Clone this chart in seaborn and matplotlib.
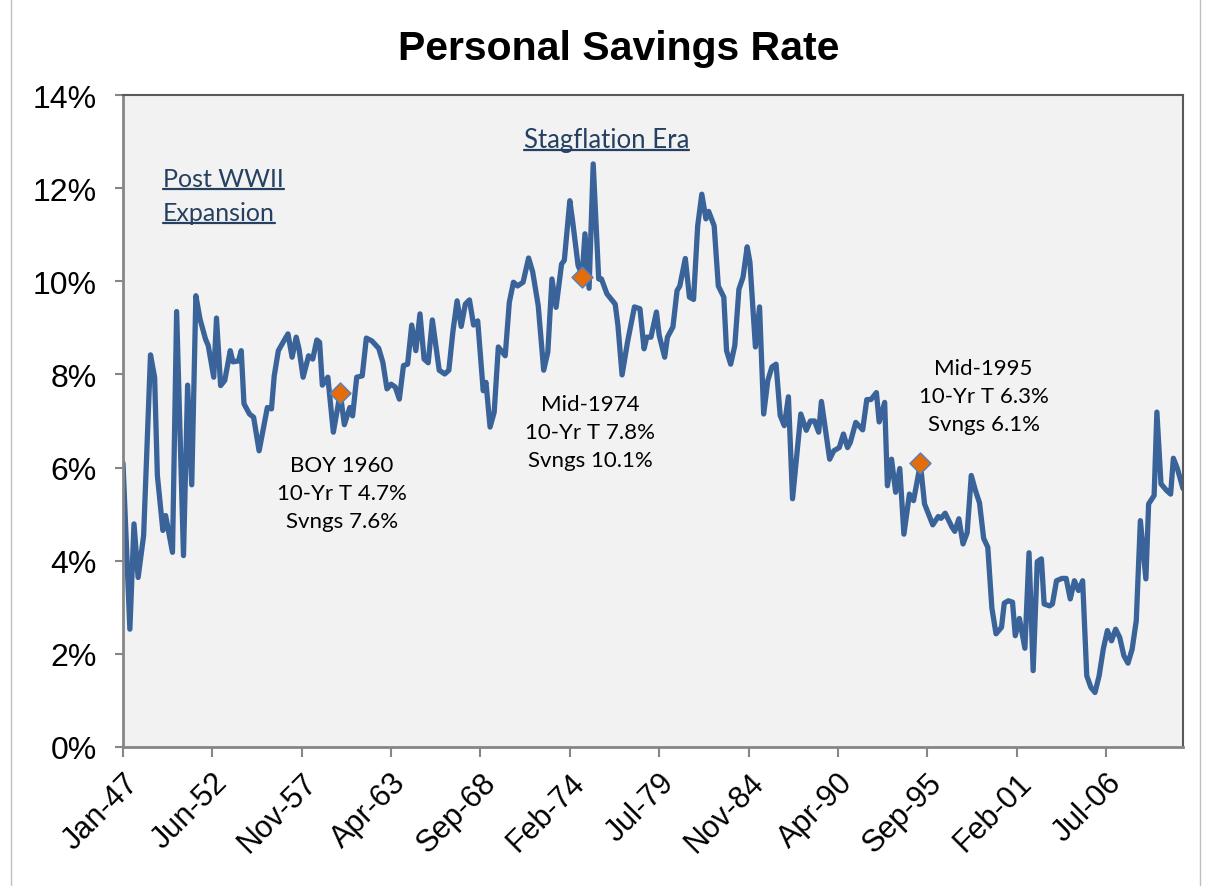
import numpy as np
import pandas as pd
import seaborn as sns
import matplotlib.pyplot as plt
from matplotlib.lines import Line2D

# months counted from Jan-47, savings rate in %
months = [0, 5, 8, 11, 15, 20, 23, 25, 29, 31, 36, 39, 44, 47, 50, 53, 56, 60, 62, 66,
          68, 71, 74, 78, 80, 84, 86, 88, 92, 95, 99, 102, 105, 108, 110, 113, 117, 120, 123, 126,
          128, 131, 135, 138, 141, 143, 145, 149, 153, 158, 161, 165, 167, 170, 174, 177, 181, 186, 189, 192,
          195, 198, 201, 204, 207, 210, 213, 216, 219, 222, 225, 230, 234, 237, 240, 243, 246, 249, 252, 255,
          258, 262, 264, 267, 270, 273, 278, 281, 284, 287, 291, 295, 298, 302, 306, 309, 312, 315, 319, 321,
          325, 327, 331, 334, 336, 339, 342, 346, 348, 352, 358, 360, 363, 367, 372, 376, 379, 381, 384, 388,
          390, 394, 396, 400, 403, 405, 409, 412, 415, 418, 421, 424, 426, 430, 433, 437, 439, 442, 445, 448,
          451, 454, 456, 460, 463, 466, 469, 472, 475, 478, 481, 484, 487, 493, 497, 500, 503, 506, 508, 514,
          517, 521, 524, 527, 529, 533, 538, 541, 544, 548, 550, 554, 556, 559, 562, 565, 568, 572, 575, 580,
          583, 589, 593, 595, 598, 603, 605, 608, 611, 614, 617, 620, 623, 626, 629, 632, 635, 639, 641, 644,
          647, 649, 652, 656, 659, 662, 665, 668, 670, 674, 676, 679, 683, 686, 689, 692, 695, 698, 701, 704,
          707, 710, 713, 716, 719, 722, 725, 728, 731, 734, 737, 740, 744, 746, 750, 752, 755, 759, 762, 764,
          767, 771]
savings = [6.10, 2.53, 4.79, 3.64, 4.54, 8.42, 7.94, 5.83, 4.65, 4.97, 4.18, 9.35, 4.11, 7.77, 5.63, 9.69, 9.19, 8.76, 8.62, 7.94,
           9.21, 7.76, 7.87, 8.51, 8.27, 8.29, 8.51, 7.37, 7.15, 7.08, 6.36, 6.83, 7.29, 7.26, 7.97, 8.51, 8.72, 8.87, 8.37, 8.80,
           8.55, 7.94, 8.40, 8.33, 8.74, 8.69, 7.77, 7.94, 6.76, 7.60, 6.92, 7.29, 7.11, 7.94, 7.97, 8.78, 8.72, 8.56, 8.26, 7.69,
           7.79, 7.73, 7.47, 8.19, 8.22, 9.06, 8.51, 9.30, 8.33, 8.25, 9.17, 8.09, 8.01, 8.09, 8.93, 9.58, 9.03, 9.51, 9.60, 9.06,
           9.15, 7.65, 7.83, 6.87, 7.19, 8.59, 8.40, 9.55, 9.98, 9.90, 9.98, 10.50, 10.20, 9.48, 8.09, 8.48, 10.05, 9.44, 10.37, 10.45,
           11.73, 11.30, 10.34, 10.13, 11.02, 9.85, 12.52, 10.05, 10.05, 9.73, 9.51, 9.05, 7.99, 8.70, 9.45, 9.41, 8.55, 8.80, 8.80, 9.34,
           8.84, 8.37, 8.80, 9.02, 9.80, 9.90, 10.49, 9.66, 9.61, 11.19, 11.87, 11.34, 11.50, 11.19, 9.90, 9.66, 8.51, 8.22, 8.62, 9.83,
           10.09, 10.74, 10.41, 8.59, 9.45, 7.15, 7.87, 8.16, 8.22, 7.12, 6.90, 7.52, 5.33, 7.15, 6.80, 7.00, 7.00, 6.76, 7.42, 6.18,
           6.36, 6.43, 6.72, 6.43, 6.54, 6.97, 6.81, 7.46, 7.46, 7.61, 6.98, 7.40, 5.61, 6.18, 5.47, 5.98, 4.57, 5.43, 5.29, 6.08,
           5.22, 4.77, 4.95, 4.91, 5.02, 4.72, 4.63, 4.90, 4.36, 4.60, 5.83, 5.51, 5.24, 4.48, 4.29, 2.98, 2.43, 2.57, 3.09, 3.14,
           3.11, 2.39, 2.76, 2.12, 4.17, 1.64, 3.98, 4.04, 3.07, 3.03, 3.07, 3.57, 3.62, 3.62, 3.18, 3.57, 3.36, 3.57, 1.53, 1.28,
           1.17, 1.53, 2.10, 2.50, 2.28, 2.53, 2.35, 1.96, 1.80, 2.10, 2.71, 4.86, 3.61, 5.22, 5.40, 7.19, 5.65, 5.51, 5.43, 6.20,
           5.97, 5.55]

tick_months = [0, 65, 130, 195, 260, 325, 390, 455, 520, 585, 650, 715]
tick_labels = ['Jan-47', 'Jun-52', 'Nov-57', 'Apr-63', 'Sep-68', 'Feb-74',
               'Jul-79', 'Nov-84', 'Apr-90', 'Sep-95', 'Feb-01', 'Jul-06']
y_ticks = [0, 2, 4, 6, 8, 10, 12, 14]

marker_months = [158, 334, 580]
marker_values = [7.6, 10.1, 6.1]
notes = ['BOY 1960\n10-Yr T 4.7%\nSvngs 7.6%',
         'Mid-1974\n10-Yr T 7.8%\nSvngs 10.1%',
         'Mid-1995\n10-Yr T 6.3%\nSvngs 6.1%']

sns.set_style('white')
plt.rcParams['font.family'] = ['Liberation Sans', 'DejaVu Sans']
plt.rcParams['text.color'] = 'black'

W, H = 1209, 887
fig = plt.figure(figsize=(W / 100, H / 100), dpi=100)
ax = fig.add_axes([123 / W, 1 - 748 / H, (1183 - 123) / W, (748 - 96) / H])

df = pd.DataFrame({'month': months, 'rate': savings})
sns.lineplot(data=df, x='month', y='rate', ax=ax, color='#3A6399', linewidth=3.8,
             solid_joinstyle='round', solid_capstyle='round')
sns.scatterplot(x=marker_months, y=marker_values, ax=ax, marker='D', s=115,
                color='#E46C0A', edgecolor='#4F81BD', linewidth=1, zorder=5)

ax.set_facecolor('#F2F2F2')
ax.set_xlim(0, 771)
ax.set_ylim(0, 14)
ax.set_xticks(tick_months)
ax.set_xticklabels(tick_labels, rotation=45, ha='right', va='top', rotation_mode='anchor')
ax.set_yticks(y_ticks)
ax.set_yticklabels([f'{v}%' for v in y_ticks])
ax.set_xlabel('')
ax.set_ylabel('')
for side in ['top', 'right']:
    ax.spines[side].set_color('#595959')
    ax.spines[side].set_linewidth(1.5)
for side in ['left', 'bottom']:
    ax.spines[side].set_color('#868686')
    ax.spines[side].set_linewidth(2)
ax.tick_params(axis='y', direction='out', length=6, width=1.5, color='#868686',
               pad=13, labelsize=23, labelcolor='black', left=True)
ax.tick_params(axis='x', direction='out', length=7.5, width=1.5, color='#868686',
               pad=7, labelsize=22, labelcolor='black', bottom=True)

fig.text(0.512, 0.945, 'Personal Savings Rate', ha='center', va='center',
         fontsize=29.5, fontweight='bold', color='black')

note_font = ['Lato', 'DejaVu Sans']
ax.text(159, 6.27, notes[0], ha='center', va='top', fontsize=16, family=note_font,
        linespacing=1.5, color='black')
ax.text(340, 7.58, notes[1], ha='center', va='top', fontsize=16, family=note_font,
        linespacing=1.5, color='black')
ax.text(626, 8.35, notes[2], ha='center', va='top', fontsize=16, family=note_font,
        linespacing=1.5, color='black')

# underlined era labels
era_color = '#254061'
eras = [
    ax.text(29, 12.05, 'Post WWII', ha='left', va='baseline', fontsize=18, family=note_font, color=era_color),
    ax.text(29, 11.31, 'Expansion', ha='left', va='baseline', fontsize=18, family=note_font, color=era_color),
    ax.text(291.5, 12.88, 'Stagflation Era', ha='left', va='baseline', fontsize=18.5, family=note_font, color=era_color),
]
fig.canvas.draw()
renderer = fig.canvas.get_renderer()
for t in eras:
    bb = t.get_window_extent(renderer)
    base = ax.transData.transform(t.get_position())[1]
    yy = (base - 3) / H
    fig.add_artist(Line2D([bb.x0 / W, bb.x1 / W], [yy, yy], transform=fig.transFigure,
                          color=era_color, linewidth=1.6))

# chart area border
fig.add_artist(Line2D([11 / W, 11 / W], [0, 1], transform=fig.transFigure, color='#BFBFBF', linewidth=1))
fig.add_artist(Line2D([1200 / W, 1200 / W], [0, 1], transform=fig.transFigure, color='#BFBFBF', linewidth=1))

fig.savefig('out.png', dpi=100)
